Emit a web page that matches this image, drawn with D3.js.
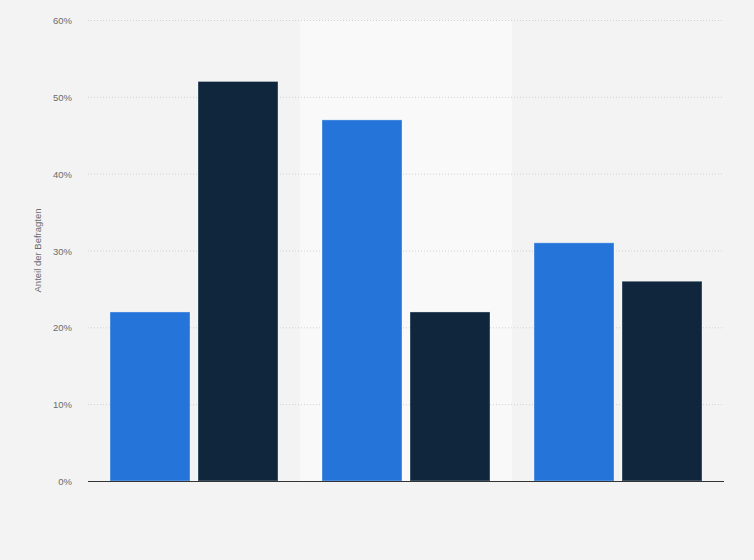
<!DOCTYPE html>
<html>
<head>
<meta charset="utf-8">
<script src="https://cdn.jsdelivr.net/npm/d3@7"></script>
<style>
  body { margin: 0; background: #f3f3f3; }
  svg { display: block; font-family: "Liberation Sans", Arial, sans-serif; }
</style>
</head>
<body>
<div id="chart"></div>
<script>
// data
const groups = ["A", "B", "C"]
const seriesNames = ["Serie 1", "Serie 2"]
const series1 = [22, 47, 31]
const series2 = [52, 22, 26]
const yTicks = [0, 10, 20, 30, 40, 50, 60]
const highlighted = "B"

const colors = ["#2574d9", "#10263d"]

const width = 754, height = 560
const margin = {top: 20, right: 30, bottom: 79, left: 88}

const svg = d3.select("#chart").append("svg")
    .attr("width", width)
    .attr("height", height)

svg.append("rect").attr("width", width).attr("height", height).attr("fill", "#f3f3f3")

const x = d3.scaleBand()
    .domain(groups)
    .range([margin.left, width - margin.right])
    .paddingInner(0).paddingOuter(0)

const x1 = d3.scaleBand()
    .domain(seriesNames)
    .range([22, x.bandwidth() - 22])
    .paddingInner(8 / 88)

const y = d3.scaleLinear()
    .domain([0, 60])
    .range([height - margin.bottom, margin.top])

// highlighted middle band
svg.append("rect")
    .attr("x", x(highlighted))
    .attr("y", y(60))
    .attr("width", x.bandwidth())
    .attr("height", y(0) - y(60))
    .attr("fill", "#f9f9f9")

// grid
svg.append("g").selectAll("line").data(yTicks.filter(d => d > 0)).join("line")
    .attr("x1", margin.left).attr("x2", width - margin.right)
    .attr("y1", d => y(d) + 0.5).attr("y2", d => y(d) + 0.5)
    .attr("stroke", "#d0d0d0")
    .attr("stroke-dasharray", "1,2")

// y tick labels
svg.append("g").selectAll("text").data(yTicks).join("text")
    .attr("x", margin.left - 16)
    .attr("y", d => y(d) + 4)
    .attr("text-anchor", "end")
    .attr("font-size", "9.5px")
    .attr("fill", "#6b6b6b")
    .text(d => d + "%")

svg.append("text")
    .attr("transform", "translate(41," + ((y(0) + y(60)) / 2) + ") rotate(-90)")
    .attr("text-anchor", "middle")
    .attr("font-size", "9.5px")
    .attr("fill", "#6b6b6b")
    .text("Anteil der Befragten")

const rows = groups.map((g, i) => ({group: g, values: [series1[i], series2[i]]}))

svg.append("g").selectAll("g").data(rows).join("g")
    .attr("transform", d => "translate(" + x(d.group) + ",0)")
    .selectAll("rect")
    .data(d => d.values.map((v, j) => ({key: seriesNames[j], value: v, j: j})))
    .join("rect")
        .attr("x", d => x1(d.key))
        .attr("y", d => y(d.value))
        .attr("width", x1.bandwidth())
        .attr("height", d => y(0) - y(d.value))
        .attr("fill", d => colors[d.j])
        .attr("stroke", "rgba(255,255,255,0.35)")
        .attr("stroke-width", 1)

// baseline
svg.append("line")
    .attr("x1", margin.left).attr("x2", width - margin.right)
    .attr("y1", y(0) + 0.5).attr("y2", y(0) + 0.5)
    .attr("stroke", "#333")
    .attr("stroke-width", 1.2)
</script>
</body>
</html>
